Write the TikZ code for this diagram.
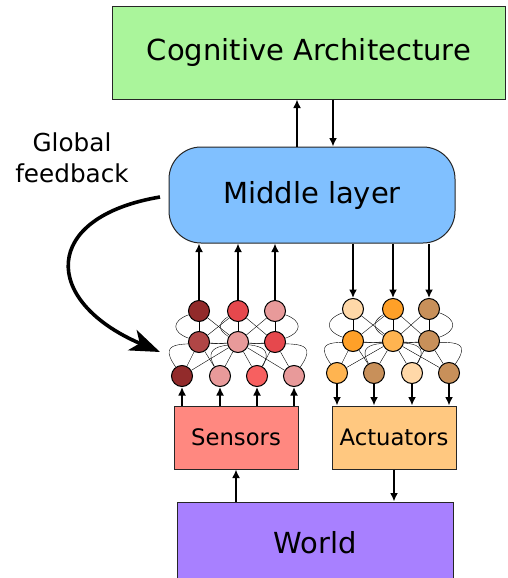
\documentclass[tikz,border=0pt]{standalone}
\usepackage{fontspec}
\setmainfont{DejaVu Sans}
\usepackage{xcolor}
\usetikzlibrary{arrows.meta,backgrounds}
\definecolor{cogGreen}{RGB}{170,245,155}
\definecolor{midBlue}{RGB}{128,192,255}
\definecolor{sensRed}{RGB}{255,136,128}
\definecolor{actOrange}{RGB}{255,200,128}
\definecolor{worldPurple}{RGB}{168,128,255}
\definecolor{darkRed}{RGB}{146,43,43}
\definecolor{midRed}{RGB}{176,70,70}
\definecolor{lightRed}{RGB}{230,72,77}
\definecolor{pinkRed}{RGB}{232,154,154}
\definecolor{brightRed}{RGB}{247,96,96}
\definecolor{peach}{RGB}{255,216,168}
\definecolor{deepOrange}{RGB}{255,160,40}
\definecolor{softOrange}{RGB}{255,180,80}
\definecolor{brownish}{RGB}{200,144,90}

\begin{document}
\begin{tikzpicture}[x=1pt, y=1pt,
  box/.style={draw=black!85, line width=1pt, inner sep=0pt},
  unit/.style={circle, draw, line width=1pt, minimum size=21pt, inner sep=0pt},
  link/.style={line width=1.1pt},
  arrow/.style={line width=2.8pt, -{Latex[length=8.5pt,width=8pt]}},
  feedback/.style={line width=3.6pt, -{Stealth[length=30pt,width=22pt,inset=8pt]}},
  bigtext/.style={font=\fontsize{29}{35}\selectfont}]
 \useasboundingbox (0,0) rectangle (507,-578);

 \node[box, bigtext, fill=cogGreen, minimum width=393pt, minimum height=92pt] (cog) at (309,-53) {Cognitive Architecture};
 \node[box, bigtext, fill=midBlue, rounded corners=32pt, minimum width=286pt, minimum height=96pt] (mid) at (312,-195) {Middle layer};
 \node[box, font=\fontsize{22.7}{27}\selectfont, fill=sensRed, minimum width=124pt, minimum height=63pt] (sens) at (236,-437.5) {Sensors};
 \node[box, font=\fontsize{22.7}{27}\selectfont, fill=actOrange, minimum width=124pt, minimum height=63pt] (act) at (394,-437.5) {Actuators};
 \node[box, bigtext, fill=worldPurple, minimum width=276pt, minimum height=82pt] (world) at (315,-543) {World};
 \node[font=\fontsize{24.7}{31}\selectfont, align=center, inner sep=0pt] (fbtext) at (72,-158) {Global\\feedback};

 % left network (sensors)
 \foreach \x/\c [count=\i] in {199/darkRed,238/lightRed,275/pinkRed}
  \node[unit, fill=\c] (lT\i) at (\x,-311) {};
 \foreach \x/\c [count=\i] in {199/midRed,238/pinkRed,275/lightRed}
  \node[unit, fill=\c] (lM\i) at (\x,-342) {};
 \foreach \x/\c [count=\i] in {182/darkRed,220/pinkRed,257/brightRed,294/pinkRed}
  \node[unit, fill=\c] (lB\i) at (\x,-376) {};

 % right network (actuators)
 \foreach \x/\c [count=\i] in {353/peach,393/deepOrange,429/brownish}
  \node[unit, fill=\c] (rT\i) at (\x,-309) {};
 \foreach \x/\c [count=\i] in {353/deepOrange,393/softOrange,429/brownish}
  \node[unit, fill=\c] (rM\i) at (\x,-341) {};
 \foreach \x/\c [count=\i] in {337/softOrange,374/brownish,412/peach,449/brownish}
  \node[unit, fill=\c] (rB\i) at (\x,-373) {};

 \begin{scope}[on background layer, link]
  \foreach \s in {l,r} {
   \foreach \a/\b in {T1/M1,T2/M2,T3/M3,T1/M2,T2/M1,T2/M3,T3/M2,M1/B1,M1/B2,M2/B1,M2/B2,M2/B3,M2/B4,M3/B3,M3/B4}
    \draw (\s\a) -- (\s\b);
   \draw (\s T1) to[out=200, in=160, looseness=2] (\s M1);
   \draw (\s T2) to[out=210, in=150, looseness=1.6] (\s M2);
   \draw (\s T3) to[out=-20, in=20, looseness=2] (\s M3);
   \draw (\s M2) to[out=185, in=125, looseness=1.7] (\s B1);
   \draw (\s M2) to[out=-5, in=55, looseness=1.7] (\s B4);
   \draw (\s M1) to[out=-5, in=60, looseness=1.4] (\s B3);
   \draw (\s M3) to[out=185, in=120, looseness=1.4] (\s B2);
  }
 \end{scope}

 \foreach \i in {1,2,3} {
  \draw[arrow] (lT\i) -- (lT\i |- mid.south);
  \draw[arrow] (rT\i |- mid.south) -- (rT\i);
 }
 \foreach \i in {1,...,4} {
  \draw[arrow] (lB\i |- sens.north) -- (lB\i);
  \draw[arrow] (rB\i) -- (rB\i |- act.north);
 }

 \coordinate (caUp) at (297,0);
 \coordinate (caDown) at (333,0);
 \draw[arrow] (caUp |- mid.north) -- (caUp |- cog.south);
 \draw[arrow] (caDown |- cog.south) -- (caDown |- mid.north);
 \draw[arrow] (world.north -| sens.south) -- (sens.south);
 \draw[arrow] (act.south) -- (act.south |- world.north);

 \coordinate (fbStart) at (160,-197);
 \coordinate (fbEnd) at (160,-352);
 \draw[feedback] (fbStart) .. controls (41,-217) and (41,-301) .. (fbEnd);
\end{tikzpicture}
\end{document}
